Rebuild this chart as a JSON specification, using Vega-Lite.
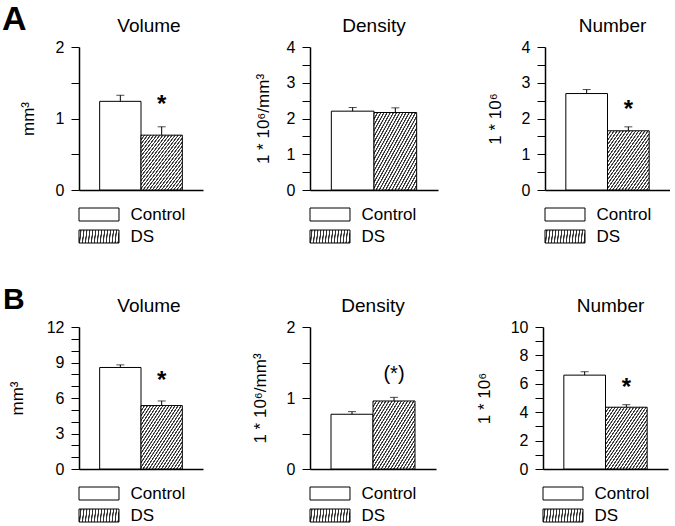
{
  "$schema": "https://vega.github.io/schema/vega-lite/v6.json",
  "padding": {"left": 2, "top": 3, "right": 0, "bottom": 0},
  "background": "white",
  "params": [{"name": "hatch", "value": {"gradient": "linear", "x1": 0, "y1": 0, "x2": 1, "y2": 1, "stops": [
      {"offset": 0, "color": "#333"}, {"offset": 0.0111, "color": "#333"}, {"offset": 0.0167, "color": "#fff"}, {"offset": 0.0333, "color": "#fff"},
      {"offset": 0.037, "color": "#333"}, {"offset": 0.0481, "color": "#333"}, {"offset": 0.0537, "color": "#fff"}, {"offset": 0.0704, "color": "#fff"},
      {"offset": 0.0741, "color": "#333"}, {"offset": 0.0852, "color": "#333"}, {"offset": 0.0907, "color": "#fff"}, {"offset": 0.1074, "color": "#fff"},
      {"offset": 0.1111, "color": "#333"}, {"offset": 0.1222, "color": "#333"}, {"offset": 0.1278, "color": "#fff"}, {"offset": 0.1444, "color": "#fff"},
      {"offset": 0.1481, "color": "#333"}, {"offset": 0.1593, "color": "#333"}, {"offset": 0.1648, "color": "#fff"}, {"offset": 0.1815, "color": "#fff"},
      {"offset": 0.1852, "color": "#333"}, {"offset": 0.1963, "color": "#333"}, {"offset": 0.2019, "color": "#fff"}, {"offset": 0.2185, "color": "#fff"},
      {"offset": 0.2222, "color": "#333"}, {"offset": 0.2333, "color": "#333"}, {"offset": 0.2389, "color": "#fff"}, {"offset": 0.2556, "color": "#fff"},
      {"offset": 0.2593, "color": "#333"}, {"offset": 0.2704, "color": "#333"}, {"offset": 0.2759, "color": "#fff"}, {"offset": 0.2926, "color": "#fff"},
      {"offset": 0.2963, "color": "#333"}, {"offset": 0.3074, "color": "#333"}, {"offset": 0.313, "color": "#fff"}, {"offset": 0.3296, "color": "#fff"},
      {"offset": 0.3333, "color": "#333"}, {"offset": 0.3444, "color": "#333"}, {"offset": 0.35, "color": "#fff"}, {"offset": 0.3667, "color": "#fff"},
      {"offset": 0.3704, "color": "#333"}, {"offset": 0.3815, "color": "#333"}, {"offset": 0.387, "color": "#fff"}, {"offset": 0.4037, "color": "#fff"},
      {"offset": 0.4074, "color": "#333"}, {"offset": 0.4185, "color": "#333"}, {"offset": 0.4241, "color": "#fff"}, {"offset": 0.4407, "color": "#fff"},
      {"offset": 0.4444, "color": "#333"}, {"offset": 0.4556, "color": "#333"}, {"offset": 0.4611, "color": "#fff"}, {"offset": 0.4778, "color": "#fff"},
      {"offset": 0.4815, "color": "#333"}, {"offset": 0.4926, "color": "#333"}, {"offset": 0.4981, "color": "#fff"}, {"offset": 0.5148, "color": "#fff"},
      {"offset": 0.5185, "color": "#333"}, {"offset": 0.5296, "color": "#333"}, {"offset": 0.5352, "color": "#fff"}, {"offset": 0.5519, "color": "#fff"},
      {"offset": 0.5556, "color": "#333"}, {"offset": 0.5667, "color": "#333"}, {"offset": 0.5722, "color": "#fff"}, {"offset": 0.5889, "color": "#fff"},
      {"offset": 0.5926, "color": "#333"}, {"offset": 0.6037, "color": "#333"}, {"offset": 0.6093, "color": "#fff"}, {"offset": 0.6259, "color": "#fff"},
      {"offset": 0.6296, "color": "#333"}, {"offset": 0.6407, "color": "#333"}, {"offset": 0.6463, "color": "#fff"}, {"offset": 0.663, "color": "#fff"},
      {"offset": 0.6667, "color": "#333"}, {"offset": 0.6778, "color": "#333"}, {"offset": 0.6833, "color": "#fff"}, {"offset": 0.7, "color": "#fff"},
      {"offset": 0.7037, "color": "#333"}, {"offset": 0.7148, "color": "#333"}, {"offset": 0.7204, "color": "#fff"}, {"offset": 0.737, "color": "#fff"},
      {"offset": 0.7407, "color": "#333"}, {"offset": 0.7519, "color": "#333"}, {"offset": 0.7574, "color": "#fff"}, {"offset": 0.7741, "color": "#fff"},
      {"offset": 0.7778, "color": "#333"}, {"offset": 0.7889, "color": "#333"}, {"offset": 0.7944, "color": "#fff"}, {"offset": 0.8111, "color": "#fff"},
      {"offset": 0.8148, "color": "#333"}, {"offset": 0.8259, "color": "#333"}, {"offset": 0.8315, "color": "#fff"}, {"offset": 0.8481, "color": "#fff"},
      {"offset": 0.8519, "color": "#333"}, {"offset": 0.863, "color": "#333"}, {"offset": 0.8685, "color": "#fff"}, {"offset": 0.8852, "color": "#fff"},
      {"offset": 0.8889, "color": "#333"}, {"offset": 0.9, "color": "#333"}, {"offset": 0.9056, "color": "#fff"}, {"offset": 0.9222, "color": "#fff"},
      {"offset": 0.9259, "color": "#333"}, {"offset": 0.937, "color": "#333"}, {"offset": 0.9426, "color": "#fff"}, {"offset": 0.9593, "color": "#fff"},
      {"offset": 0.963, "color": "#333"}, {"offset": 0.9741, "color": "#333"}, {"offset": 0.9796, "color": "#fff"}, {"offset": 0.9963, "color": "#fff"},
      {"offset": 1, "color": "#333"}
    ]}}],
  "config": {
    "font": "Liberation Sans",
    "view": {"stroke": null},
    "title": {"fontSize": 19, "fontWeight": "normal", "color": "black", "offset": 3, "font": "Liberation Sans"},
    "axisY": {"domainColor": "black", "domainWidth": 1.5, "tickColor": "black", "tickWidth": 1, "tickSize": 8, "labelPadding": 7, "labelFontSize": 16, "labelColor": "black", "labelFont": "Liberation Sans", "titleFont": "Liberation Sans", "titleFontSize": 17, "titleFontWeight": "normal", "titleColor": "black", "grid": false, "labelOverlap": false, "labelFlush": false, "tickCount": 30},
    "axisX": {"domainColor": "black", "domainWidth": 1.5, "grid": false},
    "legend": {"orient": "bottom", "direction": "vertical", "symbolType": "M-1.538,-0.5H1.538V0.5H-1.538Z", "symbolSize": 676, "symbolOffset": 6.5, "symbolStrokeColor": "black", "symbolStrokeWidth": 1, "labelFontSize": 17, "labelFont": "Liberation Sans", "labelColor": "black", "labelOffset": 18, "rowPadding": 0, "padding": 0, "offset": 11}
  },
  "resolve": {"scale": {"fill": "independent"}, "legend": {"fill": "independent"}},
  "spacing": 40,
  "vconcat": [
    {
      "title": {"text": "A", "anchor": "start", "frame": "group", "fontSize": 34, "fontWeight": "bold", "offset": -20, "dx": -77},
      "bounds": "flush",
      "spacing": 107,
      "resolve": {"scale": {"fill": "independent"}, "legend": {"fill": "independent"}},
      "hconcat": [
        {
          "title": {"text": "Volume", "dx": 8},
          "width": 124, "height": 143,
          "data": {"values": [
            {"group": "Control", "mean": 1.24, "upper": 1.325, "star": "", "starY": null},
            {"group": "DS", "mean": 0.767, "upper": 0.884, "star": "*", "starY": 1.252}
          ]},
          "encoding": {"x": {"field": "group", "type": "nominal", "scale": {"paddingInner": 0, "paddingOuter": 0.5}, "axis": {"title": null, "labels": false, "ticks": false}}},
          "layer": [
            {"mark": {"type": "bar", "stroke": "black", "strokeWidth": 1}, "encoding": {
              "y": {"field": "mean", "type": "quantitative", "scale": {"domain": [0, 2]}, "axis": {"title": "mm³", "values": [0, 0.5, 1, 1.5, 2], "tickCount": 30, "labelExpr": "datum.value % 1 === 0 ? format(datum.value, 'd') : ''", "titlePadding": 18}},
              "fill": {"field": "group", "type": "nominal", "scale": {"range": ["#ffffff", {"expr": "hatch"}]}, "legend": {"title": null}}}},
            {"mark": {"type": "rule", "color": "black", "strokeWidth": 1}, "encoding": {"y": {"field": "mean", "type": "quantitative", "scale": {"domain": [0, 2]}}, "y2": {"field": "upper"}}},
            {"mark": {"type": "tick", "color": "black", "size": 8, "thickness": 1}, "encoding": {"y": {"field": "upper", "type": "quantitative", "scale": {"domain": [0, 2]}}}},
            {"mark": {"type": "text", "fontSize": 24, "fontWeight": "bold", "baseline": "middle", "dy": 5, "color": "black"}, "encoding": {"y": {"field": "starY", "type": "quantitative", "scale": {"domain": [0, 2]}}, "text": {"field": "star"}}}
          ]
        },
        {
          "title": {"text": "Density"},
          "width": 128, "height": 143,
          "data": {"values": [
            {"group": "Control", "mean": 2.205, "upper": 2.307},
            {"group": "DS", "mean": 2.167, "upper": 2.298}
          ]},
          "encoding": {"x": {"field": "group", "type": "nominal", "scale": {"paddingInner": 0, "paddingOuter": 0.5}, "axis": {"title": null, "labels": false, "ticks": false}}},
          "layer": [
            {"mark": {"type": "bar", "stroke": "black", "strokeWidth": 1}, "encoding": {
              "y": {"field": "mean", "type": "quantitative", "scale": {"domain": [0, 4]}, "axis": {"title": "1 * 10⁶/mm³", "values": [0, 0.5, 1, 1.5, 2, 2.5, 3, 3.5, 4], "tickCount": 30, "labelExpr": "datum.value % 1 === 0 ? format(datum.value, 'd') : ''", "titlePadding": 14}},
              "fill": {"field": "group", "type": "nominal", "scale": {"range": ["#ffffff", {"expr": "hatch"}]}, "legend": {"title": null}}}},
            {"mark": {"type": "rule", "color": "black", "strokeWidth": 1}, "encoding": {"y": {"field": "mean", "type": "quantitative", "scale": {"domain": [0, 4]}}, "y2": {"field": "upper"}}},
            {"mark": {"type": "tick", "color": "black", "size": 8, "thickness": 1}, "encoding": {"y": {"field": "upper", "type": "quantitative", "scale": {"domain": [0, 4]}}}}
          ]
        },
        {
          "title": {"text": "Number", "dx": 5},
          "width": 125, "height": 143,
          "data": {"values": [
            {"group": "Control", "mean": 2.698, "upper": 2.81, "star": "", "starY": null},
            {"group": "DS", "mean": 1.656, "upper": 1.767, "star": "*", "starY": 2.38}
          ]},
          "encoding": {"x": {"field": "group", "type": "nominal", "scale": {"paddingInner": 0, "paddingOuter": 0.5}, "axis": {"title": null, "labels": false, "ticks": false}}},
          "layer": [
            {"mark": {"type": "bar", "stroke": "black", "strokeWidth": 1}, "encoding": {
              "y": {"field": "mean", "type": "quantitative", "scale": {"domain": [0, 4]}, "axis": {"title": "1 * 10⁶", "values": [0, 0.5, 1, 1.5, 2, 2.5, 3, 3.5, 4], "tickCount": 30, "labelExpr": "datum.value % 1 === 0 ? format(datum.value, 'd') : ''", "titlePadding": 17}},
              "fill": {"field": "group", "type": "nominal", "scale": {"range": ["#ffffff", {"expr": "hatch"}]}, "legend": {"title": null}}}},
            {"mark": {"type": "rule", "color": "black", "strokeWidth": 1}, "encoding": {"y": {"field": "mean", "type": "quantitative", "scale": {"domain": [0, 4]}}, "y2": {"field": "upper"}}},
            {"mark": {"type": "tick", "color": "black", "size": 8, "thickness": 1}, "encoding": {"y": {"field": "upper", "type": "quantitative", "scale": {"domain": [0, 4]}}}},
            {"mark": {"type": "text", "fontSize": 24, "fontWeight": "bold", "baseline": "middle", "dy": 5, "color": "black"}, "encoding": {"y": {"field": "starY", "type": "quantitative", "scale": {"domain": [0, 4]}}, "text": {"field": "star"}}}
          ]
        }
      ]
    },
    {
      "title": {"text": "B", "anchor": "start", "frame": "group", "fontSize": 30, "fontWeight": "bold", "offset": -18, "dx": -76},
      "bounds": "flush",
      "spacing": 107,
      "resolve": {"scale": {"fill": "independent"}, "legend": {"fill": "independent"}},
      "hconcat": [
        {
          "title": {"text": "Volume", "dx": 8},
          "width": 124, "height": 142,
          "data": {"values": [
            {"group": "Control", "mean": 8.58, "upper": 8.8, "star": "", "starY": null},
            {"group": "DS", "mean": 5.36, "upper": 5.75, "star": "*", "starY": 7.86}
          ]},
          "encoding": {"x": {"field": "group", "type": "nominal", "scale": {"paddingInner": 0, "paddingOuter": 0.5}, "axis": {"title": null, "labels": false, "ticks": false}}},
          "layer": [
            {"mark": {"type": "bar", "stroke": "black", "strokeWidth": 1}, "encoding": {
              "y": {"field": "mean", "type": "quantitative", "scale": {"domain": [0, 12]}, "axis": {"title": "mm³", "values": [0, 1, 2, 3, 4, 5, 6, 7, 8, 9, 10, 11, 12], "tickCount": 30, "labelExpr": "datum.value % 3 === 0 ? format(datum.value, 'd') : ''", "titlePadding": 20}},
              "fill": {"field": "group", "type": "nominal", "scale": {"range": ["#ffffff", {"expr": "hatch"}]}, "legend": {"title": null}}}},
            {"mark": {"type": "rule", "color": "black", "strokeWidth": 1}, "encoding": {"y": {"field": "mean", "type": "quantitative", "scale": {"domain": [0, 12]}}, "y2": {"field": "upper"}}},
            {"mark": {"type": "tick", "color": "black", "size": 8, "thickness": 1}, "encoding": {"y": {"field": "upper", "type": "quantitative", "scale": {"domain": [0, 12]}}}},
            {"mark": {"type": "text", "fontSize": 24, "fontWeight": "bold", "baseline": "middle", "dy": 5, "color": "black"}, "encoding": {"y": {"field": "starY", "type": "quantitative", "scale": {"domain": [0, 12]}}, "text": {"field": "star"}}}
          ]
        },
        {
          "title": {"text": "Density"},
          "width": 126, "height": 142,
          "data": {"values": [
            {"group": "Control", "mean": 0.771, "upper": 0.808, "star": "", "starY": null},
            {"group": "DS", "mean": 0.958, "upper": 1.009, "star": "(*)", "starY": 1.338}
          ]},
          "encoding": {"x": {"field": "group", "type": "nominal", "scale": {"paddingInner": 0, "paddingOuter": 0.5}, "axis": {"title": null, "labels": false, "ticks": false}}},
          "layer": [
            {"mark": {"type": "bar", "stroke": "black", "strokeWidth": 1}, "encoding": {
              "y": {"field": "mean", "type": "quantitative", "scale": {"domain": [0, 2]}, "axis": {"title": "1 * 10⁶/mm³", "values": [0, 0.5, 1, 1.5, 2], "tickCount": 30, "labelExpr": "datum.value % 1 === 0 ? format(datum.value, 'd') : ''", "titlePadding": 17}},
              "fill": {"field": "group", "type": "nominal", "scale": {"range": ["#ffffff", {"expr": "hatch"}]}, "legend": {"title": null}}}},
            {"mark": {"type": "rule", "color": "black", "strokeWidth": 1}, "encoding": {"y": {"field": "mean", "type": "quantitative", "scale": {"domain": [0, 2]}}, "y2": {"field": "upper"}}},
            {"mark": {"type": "tick", "color": "black", "size": 8, "thickness": 1}, "encoding": {"y": {"field": "upper", "type": "quantitative", "scale": {"domain": [0, 2]}}}},
            {"mark": {"type": "text", "fontSize": 20, "fontWeight": "normal", "baseline": "middle", "dy": 0, "color": "black"}, "encoding": {"y": {"field": "starY", "type": "quantitative", "scale": {"domain": [0, 2]}}, "text": {"field": "star"}}}
          ]
        },
        {
          "title": {"text": "Number", "dx": 5},
          "width": 125, "height": 142,
          "data": {"values": [
            {"group": "Control", "mean": 6.61, "upper": 6.85, "star": "", "starY": null},
            {"group": "DS", "mean": 4.35, "upper": 4.53, "star": "*", "starY": 6.06}
          ]},
          "encoding": {"x": {"field": "group", "type": "nominal", "scale": {"paddingInner": 0, "paddingOuter": 0.5}, "axis": {"title": null, "labels": false, "ticks": false}}},
          "layer": [
            {"mark": {"type": "bar", "stroke": "black", "strokeWidth": 1}, "encoding": {
              "y": {"field": "mean", "type": "quantitative", "scale": {"domain": [0, 10]}, "axis": {"title": "1 * 10⁶", "values": [0, 1, 2, 3, 4, 5, 6, 7, 8, 9, 10], "tickCount": 30, "labelExpr": "datum.value % 2 === 0 ? format(datum.value, 'd') : ''", "titlePadding": 17}},
              "fill": {"field": "group", "type": "nominal", "scale": {"range": ["#ffffff", {"expr": "hatch"}]}, "legend": {"title": null}}}},
            {"mark": {"type": "rule", "color": "black", "strokeWidth": 1}, "encoding": {"y": {"field": "mean", "type": "quantitative", "scale": {"domain": [0, 10]}}, "y2": {"field": "upper"}}},
            {"mark": {"type": "tick", "color": "black", "size": 8, "thickness": 1}, "encoding": {"y": {"field": "upper", "type": "quantitative", "scale": {"domain": [0, 10]}}}},
            {"mark": {"type": "text", "fontSize": 24, "fontWeight": "bold", "baseline": "middle", "dy": 5, "color": "black"}, "encoding": {"y": {"field": "starY", "type": "quantitative", "scale": {"domain": [0, 10]}}, "text": {"field": "star"}}}
          ]
        }
      ]
    }
  ]
}
